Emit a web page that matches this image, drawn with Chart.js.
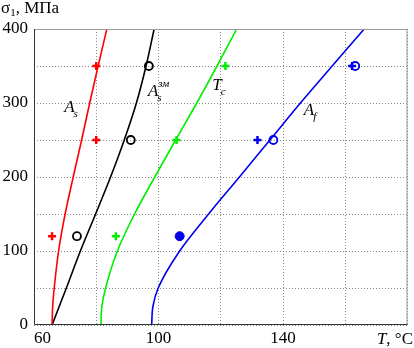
<!DOCTYPE html>
<html>
<head>
<meta charset="utf-8">
<script src="https://cdn.jsdelivr.net/npm/chart.js@4"></script>
<style>
  html, body { margin: 0; padding: 0; background: #fff; }
  #wrap { width: 414px; height: 348px; position: relative; }
</style>
</head>
<body>
<div id="wrap"><canvas id="chart"></canvas></div>
<script>
// stress levels (MPa) at which the curves were read
const stress = [0, 25, 50, 100, 150, 200, 250, 300, 350, 400];

// temperature (°C) of each transformation line at those stresses
const tAs   = [65.8, 66.0, 66.5, 67.9, 70.0, 72.6, 75.3, 77.9, 80.6, 83.4];
const tAsSt = [65.8, 68.1, 70.4, 74.9, 79.8, 84.6, 89.0, 92.9, 96.0, 98.6];
const tTc   = [81.5, 81.8, 83.0, 86.8, 92.3, 98.8, 105.5, 112.3, 118.8, 125.1];
const tAf   = [97.8, 98.2, 99.9, 106.8, 116.1, 126.0, 135.8, 145.6, 155.8, 166.1];

// experimental points
const redPlusT   = [65.8, 80.0, 80.0];
const redPlusS   = [120, 250, 350];
const blackCircT = [73.8, 91.1, 96.9];
const blackCircS = [120, 250, 350];
const greenPlusT = [86.3, 105.8, 121.5];
const greenPlusS = [120, 250, 350];
const blueDotT   = [106.8];
const blueDotS   = [120];
const bluePlusT  = [131.8, 162.2];
const bluePlusS  = [250, 350];
const blueCircT  = [136.9, 163.2];
const blueCircS  = [250, 350];

const xTicks = [60, 100, 140];

function pts(xs, ys) {
    return xs.map((x, i) => ({ x: x, y: ys[i] }));
}

function curve(ts, color) {
    return {
        data: pts(ts, stress),
        showLine: true,
        indexAxis: 'y',
        borderColor: color,
        borderWidth: 1.6,
        pointRadius: 0,
        cubicInterpolationMode: 'monotone'
    };
}

const serif = '"Liberation Serif", "DejaVu Serif", serif';

// text labels on the plot (placed in data coordinates)
const curveLabels = [
    { main: 'A', sub: 's', sup: '', x: 69.7, y: 288 },
    { main: 'A', sub: 's', sup: 'зм', x: 96.6, y: 309 },
    { main: 'T', sub: 'c', sup: '', x: 117.3, y: 318 },
    { main: 'A', sub: 'f', sup: '', x: 146.7, y: 284 }
];

const decorPlugin = {
    id: 'decor',
    afterDraw(chart) {
        const ctx = chart.ctx;
        const a = chart.chartArea;
        const xs = chart.scales.x;
        const ys = chart.scales.y;
        ctx.save();

        // frame
        ctx.lineWidth = 1;
        ctx.strokeStyle = '#999';
        ctx.beginPath();
        ctx.moveTo(a.left, a.top + 0.5);
        ctx.lineTo(a.right - 0.5, a.top + 0.5);
        ctx.lineTo(a.right - 0.5, a.bottom);
        ctx.stroke();
        ctx.strokeStyle = '#333';
        ctx.beginPath();
        ctx.moveTo(a.left + 0.5, a.top);
        ctx.lineTo(a.left + 0.5, a.bottom - 0.5);
        ctx.lineTo(a.right, a.bottom - 0.5);
        ctx.stroke();

        ctx.fillStyle = '#000';
        ctx.textBaseline = 'alphabetic';

        // y-axis title
        ctx.textAlign = 'left';
        ctx.font = '17px ' + serif;
        ctx.fillText('σ', 1, 13);
        let w = ctx.measureText('σ').width;
        ctx.font = '11px ' + serif;
        ctx.fillText('1', 1 + w, 16);
        w += ctx.measureText('1').width;
        ctx.font = '17px ' + serif;
        ctx.fillText(', МПа', 1 + w, 13);

        // x-axis title
        ctx.font = 'italic 17px ' + serif;
        const tw = ctx.measureText('T').width;
        ctx.font = '17px ' + serif;
        const rest = ', °C';
        const rw = ctx.measureText(rest).width;
        const x0 = 413 - rw - tw;
        ctx.font = 'italic 17px ' + serif;
        ctx.fillText('T', x0, 344);
        ctx.font = '17px ' + serif;
        ctx.fillText(rest, x0 + tw, 344);

        // curve labels
        curveLabels.forEach(l => {
            const px = xs.getPixelForValue(l.x);
            const py = ys.getPixelForValue(l.y);
            ctx.font = 'italic 17px ' + serif;
            ctx.fillText(l.main, px, py);
            const mw = ctx.measureText(l.main).width;
            ctx.font = 'italic 11px ' + serif;
            ctx.fillText(l.sub, px + mw - 1, py + 5);
            if (l.sup) ctx.fillText(l.sup, px + mw, py - 9);
        });

        ctx.restore();
    }
};

new Chart(document.getElementById('chart'), {
    type: 'scatter',
    data: {
        datasets: [
            curve(tAs, '#ff0000'),
            curve(tAsSt, '#000000'),
            curve(tTc, '#00ee00'),
            curve(tAf, '#0000ee'),
            {
                data: pts(redPlusT, redPlusS),
                pointStyle: 'cross', pointRadius: 4, borderWidth: 2.5,
                borderColor: '#ff0000'
            },
            {
                data: pts(blackCircT, blackCircS),
                pointStyle: 'circle', pointRadius: 4, borderWidth: 1.8,
                borderColor: '#000000', backgroundColor: 'rgba(0,0,0,0)'
            },
            {
                data: pts(greenPlusT, greenPlusS),
                pointStyle: 'cross', pointRadius: 4, borderWidth: 2.5,
                borderColor: '#00ee00'
            },
            {
                data: pts(blueDotT, blueDotS),
                pointStyle: 'circle', pointRadius: 4.5, borderWidth: 1,
                borderColor: '#0000ee', backgroundColor: '#0000ee'
            },
            {
                data: pts(bluePlusT, bluePlusS),
                pointStyle: 'cross', pointRadius: 4, borderWidth: 2.5,
                borderColor: '#0000ee'
            },
            {
                data: pts(blueCircT, blueCircS),
                pointStyle: 'circle', pointRadius: 4, borderWidth: 1.8,
                borderColor: '#0000ee', backgroundColor: 'rgba(0,0,0,0)'
            }
        ]
    },
    options: {
        responsive: true,
        maintainAspectRatio: false,
        animation: false,
        layout: { padding: { top: 29, right: 5, left: 0, bottom: 0 } },
        plugins: {
            legend: { display: false },
            tooltip: { enabled: false }
        },
        scales: {
            x: {
                type: 'linear',
                min: 60,
                max: 180,
                afterFit: s => { s.height = 23; },
                afterBuildTicks: s => {
                    s.ticks = [60, 80, 100, 120, 140, 160, 180].map(v => ({ value: v }));
                },
                ticks: {
                    padding: 3,
                    color: '#000',
                    maxRotation: 0,
                    autoSkip: false,
                    align: 'inner',
                    font: { family: serif, size: 17 },
                    callback: v => (xTicks.includes(v) ? String(v) : '')
                },
                grid: { color: '#888', drawTicks: false, lineWidth: 1 },
                border: { display: false, dash: [1, 2] }
            },
            y: {
                type: 'linear',
                min: 0,
                max: 400,
                afterFit: s => { s.width = 34; },
                ticks: {
                    stepSize: 50,
                    padding: 6,
                    color: '#000',
                    font: { family: serif, size: 17 },
                    callback: v => (v % 100 === 0 ? String(v) : '')
                },
                grid: { color: '#888', drawTicks: false, lineWidth: 1 },
                border: { display: false, dash: [1, 2] }
            }
        }
    },
    plugins: [decorPlugin]
});
</script>
</body>
</html>
